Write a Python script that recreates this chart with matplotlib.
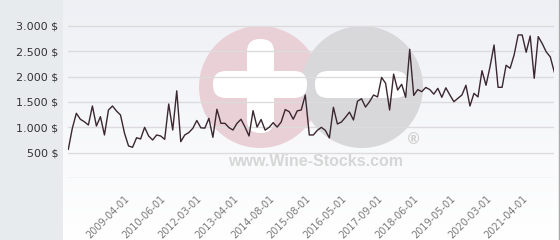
import matplotlib
matplotlib.use("Agg")
import matplotlib.pyplot as plt
import numpy as np
from matplotlib.patches import Circle, FancyBboxPatch, Rectangle

# price series (one value per listing, categorical x axis)
prices = [566, 980, 1277, 1159, 1110, 1046, 1421, 1026, 1210, 849,
          1342, 1421, 1322, 1243, 882, 632, 606, 795, 770, 1000,
          829, 750, 849, 829, 763, 1460, 947, 1720, 717, 849,
          897, 980, 1135, 990, 985, 1178, 803, 1356, 1079, 1079,
          995, 947, 1079, 1158, 1005, 829, 1329, 1005, 1155, 945,
          1000, 1092, 1005, 1105, 1350, 1309, 1160, 1325, 1342, 1640,
          849, 849, 940, 1000, 940, 790, 1395, 1066, 1105, 1198,
          1300, 1145, 1515, 1565, 1400, 1506, 1638, 1600, 1985, 1869,
          1342, 2050, 1737, 1850, 1593, 2540, 1630, 1745, 1704, 1787,
          1745, 1655, 1770, 1593, 1780, 1638, 1506, 1573, 1638, 1830,
          1421, 1671, 1600, 2118, 1830, 2197, 2625, 1790, 1790, 2225,
          2165, 2430, 2823, 2823, 2481, 2803, 1968, 2790, 2652, 2488,
          2390, 2092]
tick_idx = [14, 23, 32, 41, 50, 59, 68, 77, 86, 95, 104, 113]
tick_labels = ['2009-04-01', '2010-06-01', '2012-03-01', '2013-04-01',
               '2014-08-01', '2015-08-01', '2016-05-01', '2017-09-01',
               '2018-06-01', '2019-05-01', '2020-03-01', '2021-04-01']
y_ticks = [0, 500, 1000, 1500, 2000, 2500, 3000]
y_labels = ['', '500 $', '1.000 $', '1.500 $', '2.000 $', '2.500 $', '3.000 $']

W, H = 560, 240
fig = plt.figure(figsize=(W / 100, H / 100), dpi=100)
fig.patch.set_facecolor('#e8ebee')

# background panel with soft gradient + watermark, in pixel coords
bg = fig.add_axes([63 / W, 0, (558 - 63) / W, 1])
grad = np.linspace(0, 1, 240).reshape(-1, 1)
top = np.array([0.935, 0.941, 0.960])
bot = np.array([1.0, 1.0, 1.0])
img = top + (bot - top) * grad[..., None]
bg.imshow(np.repeat(img, 2, axis=1), extent=[63, 558, 240, 0], aspect='auto')
bg.set_xlim(63, 558)
bg.set_ylim(240, 0)
bg.axis('off')

bg.add_patch(Circle((260, 87), 61, color='#e9cfd6', lw=0))
bg.add_patch(Circle((362, 87), 61, color='#d8d8da', lw=0))
bar = dict(boxstyle='round,pad=0,rounding_size=13', color='white', lw=0)
bg.add_patch(FancyBboxPatch((247, 39), 27, 94, **bar))
bg.add_patch(FancyBboxPatch((213, 71), 94, 27, **bar))
bg.add_patch(FancyBboxPatch((315, 71), 93, 27, **bar))
bg.text(316, 161, 'www.Wine-Stocks.com', ha='center', va='center',
        fontsize=11.5, fontweight='bold', color='#d6d6d6', family='Liberation Sans')
bg.text(413, 139, '®', ha='center', va='center', fontsize=11,
        fontweight='bold', color='#d0d0d0', family='DejaVu Sans')

# right border line
fig.add_artist(Rectangle((558.5 / W, 0), 1.5 / W, 1, transform=fig.transFigure,
                         color='#a9a9a9', lw=0))

# main chart
ax = fig.add_axes([68.3 / W, (H - 178) / H, 486 / W, 178 / H])
ax.patch.set_alpha(0)
x = np.arange(len(prices))
ax.plot(x, prices, color='#3a2730', lw=1.0)
ax.set_xlim(0, len(prices) - 1)
ax.set_ylim(0, 3513)
ax.set_yticks(y_ticks)
ax.set_yticklabels(y_labels, fontsize=8, color='#333333')
ax.set_xticks(tick_idx)
ax.set_xticklabels(tick_labels, rotation=45, ha='right', rotation_mode='anchor',
                   fontsize=7, color='#7a7a7a')
ax.tick_params(axis='both', length=0)
ax.tick_params(axis='y', pad=7)
ax.tick_params(axis='x', pad=11)
ax.grid(axis='y', color='#dcdcdc', lw=1)
ax.set_axisbelow(True)
for s in ax.spines.values():
    s.set_visible(False)

plt.savefig('out.png', dpi=100)
